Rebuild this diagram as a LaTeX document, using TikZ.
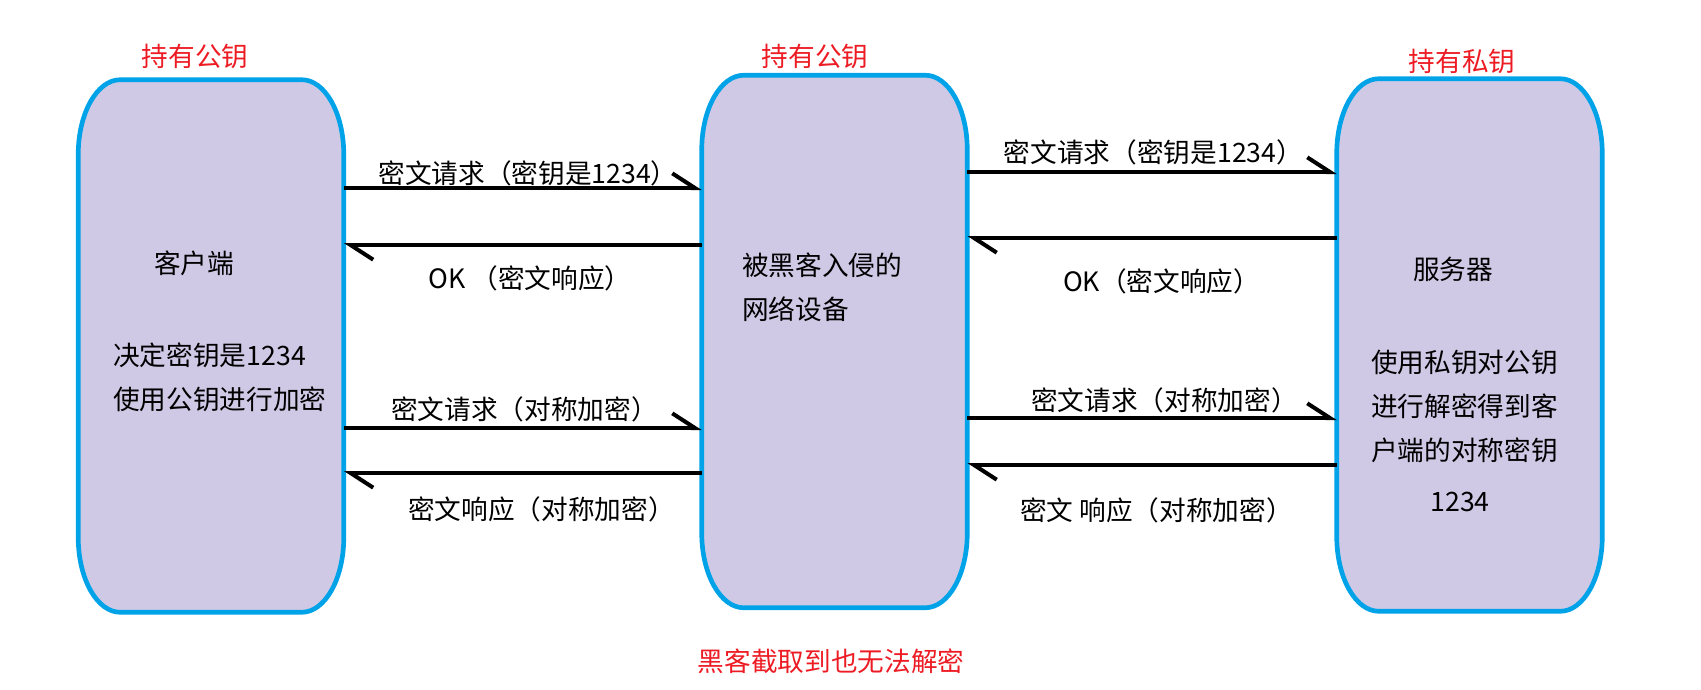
\documentclass[tikz,border=0pt]{standalone}
\usepackage{fontspec}
\setmainfont{Noto Sans CJK SC}
\usetikzlibrary{arrows.meta,backgrounds}
\definecolor{azulBorda}{RGB}{0,162,232}
\definecolor{lilasFundo}{RGB}{207,201,230}
\definecolor{vermelhoNota}{RGB}{237,28,36}
\tikzset{
  caixa/.style={rectangle, inner sep=0pt, minimum width=198.75pt, minimum height=399pt},
  contorno/.style={draw=azulBorda, line width=3.5pt, fill=lilasFundo},
  texto/.style={inner sep=0pt, align=left, font=\fontsize{20pt}{33pt}\selectfont},
  nota/.style={texto, text=vermelhoNota},
  seta/.style={-{Straight Barb[harpoon, length=17pt, width=22pt]}, line width=3pt, black},
}
\begin{document}
\begin{tikzpicture}[x=0.75pt, y=-0.75pt]
  \useasboundingbox (0,0) rectangle (1701,689);
  \node[caixa] (cli) at (211,346) {};
  \node[caixa] (rede) at (834.5,341.5) {};
  \node[caixa] (srv) at (1469.5,345) {};
  \begin{scope}[on background layer]
    \foreach \n in {cli,rede,srv}
      \draw[contorno] ([xshift=31.5pt]\n.north west) -- ([xshift=-31.5pt]\n.north east)
        arc[start angle=90, end angle=0, x radius=31.5pt, y radius=56pt]
        -- ([yshift=56pt]\n.south east)
        arc[start angle=0, end angle=-90, x radius=31.5pt, y radius=56pt]
        -- ([xshift=31.5pt]\n.south west)
        arc[start angle=270, end angle=180, x radius=31.5pt, y radius=56pt]
        -- ([yshift=-56pt]\n.north west)
        arc[start angle=180, end angle=90, x radius=31.5pt, y radius=56pt] -- cycle;
  \end{scope}

  \node[texto] (cliNome) at (194,263) {客户端};
  \node[texto, anchor=west] (cliPasso) at (113,377) {决定密钥是1234\\使用公钥进行加密};
  \node[texto, anchor=west] (redeNome) at (742,287) {被黑客入侵的\\网络设备};
  \node[texto] (srvNome) at (1453,269) {服务器};
  \node[texto, anchor=west] (srvPasso) at (1371,406) {使用私钥对公钥\\进行解密得到客\\户端的对称密钥};
  \node[texto] (srvChave) at (1460,502) {1234};

  \node[nota] (notaCli) at (195,56) {持有公钥};
  \node[nota] (notaRede) at (815,56) {持有公钥};
  \node[nota] (notaSrv) at (1462,61) {持有私钥};
  \node[nota] (notaHacker) at (831,661) {黑客截取到也无法解密};

  \node[texto] (m1) at (528,173) {密文请求（密钥是1234）};
  \node[texto] (m2) at (530,278) {OK （密文响应）};
  \node[texto] (m3) at (524.5,409) {密文请求（对称加密）};
  \node[texto] (m4) at (541.5,509) {密文响应（对称加密）};
  \node[texto] (m5) at (1153.5,152) {密文请求（密钥是1234）};
  \node[texto] (m6) at (1161.5,281) {OK（密文响应）};
  \node[texto] (m7) at (1164.5,400) {密文请求（对称加密）};
  \node[texto] (m8) at (1156.5,510) {密文 响应（对称加密）};

  \draw[seta] (cli.east |- 0,188) -- (rede.west |- 0,188);
  \draw[seta] (rede.west |- 0,245) -- (cli.east |- 0,245);
  \draw[seta] (cli.east |- 0,428) -- (rede.west |- 0,428);
  \draw[seta] (rede.west |- 0,473) -- (cli.east |- 0,473);
  \draw[seta] (rede.east |- 0,172) -- (srv.west |- 0,172);
  \draw[seta] (srv.west |- 0,238) -- (rede.east |- 0,238);
  \draw[seta] (rede.east |- 0,418) -- (srv.west |- 0,418);
  \draw[seta] (srv.west |- 0,465) -- (rede.east |- 0,465);
\end{tikzpicture}
\end{document}
